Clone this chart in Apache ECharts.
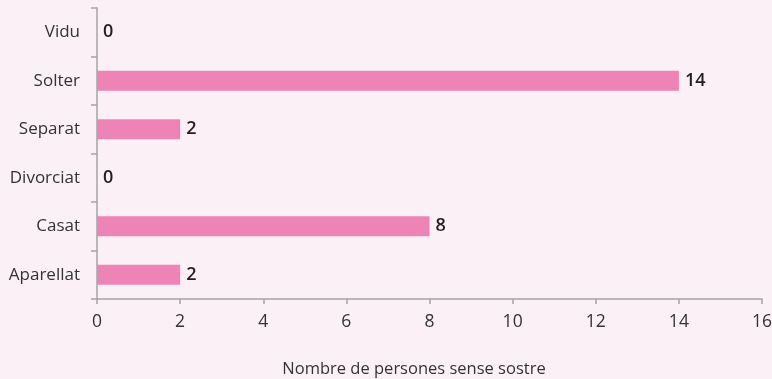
<!DOCTYPE html>
<html>
<head>
<meta charset="utf-8">
<script src="https://cdn.jsdelivr.net/npm/echarts@6/dist/echarts.min.js"></script>
<style>
  html, body { margin: 0; padding: 0; background: #fbf0f5; }
  #chart { width: 772px; height: 379px; }
</style>
</head>
<body>
<div id="chart"></div>
<script>
// Marital status of people without housing (bottom to top)
const categories = ['Aparellat', 'Casat', 'Divorciat', 'Separat', 'Solter', 'Vidu'];
const counts = [2, 8, 0, 2, 14, 0];
const axisTitle = 'Nombre de persones sense sostre';

const font = '"Open Sans", "Noto Sans", sans-serif';
const chart = echarts.init(document.getElementById('chart'));
chart.setOption({
  backgroundColor: '#fbf0f5',
  animation: false,
  grid: { left: 97, right: 10, top: 8, bottom: 80, containLabel: false, outerBoundsMode: 'none' },
  xAxis: {
    type: 'value',
    min: 0, max: 16, interval: 2,
    name: axisTitle,
    nameLocation: 'middle',
    nameGap: 62,
    nameTextStyle: { color: '#333', fontSize: 16.5, fontFamily: font, padding: [0, 31, 0, 0] },
    axisLine: { show: true, lineStyle: { color: '#a6a3a5', width: 1.5 } },
    axisTick: { show: true, length: 5, lineStyle: { color: '#a6a3a5', width: 1.5 } },
    axisLabel: { color: '#333', fontSize: 17.5, fontFamily: font, margin: 14 },
    splitLine: { show: false }
  },
  yAxis: {
    type: 'category',
    data: categories,
    axisLine: { show: true, lineStyle: { color: '#a6a3a5', width: 1.5 } },
    axisTick: { show: true, length: 6, lineStyle: { color: '#a6a3a5', width: 1.5 } },
    axisLabel: { color: '#333', fontSize: 17, fontFamily: font, margin: 17 }
  },
  series: [{
    type: 'bar',
    data: counts,
    barWidth: 20,
    itemStyle: { color: '#ee84b5' },
    label: {
      show: true,
      position: 'right',
      distance: 6,
      color: '#231f20',
      fontSize: 18,
      fontWeight: 600,
      fontFamily: font
    }
  }]
});
</script>
</body>
</html>
